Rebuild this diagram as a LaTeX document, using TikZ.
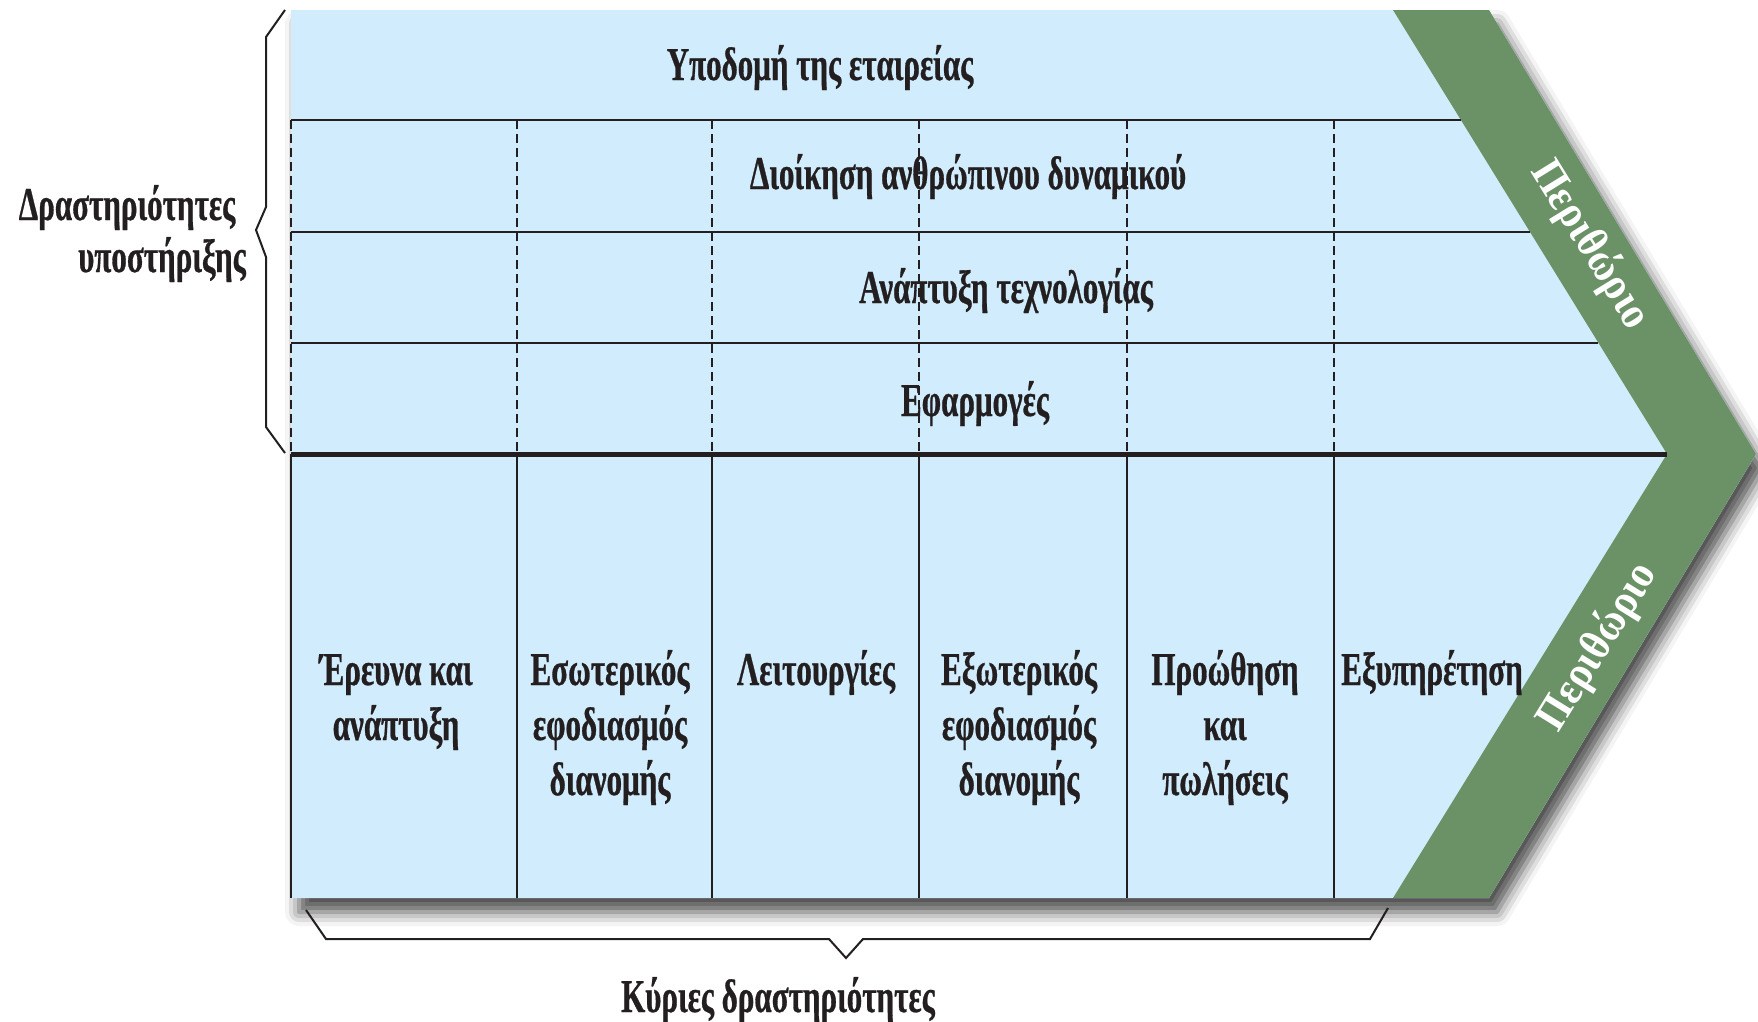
\documentclass[tikz,border=0pt]{standalone}
\usepackage{fontspec}
\setmainfont{Liberation Serif}
\newfontfamily\gf[FakeStretch=0.66,FakeBold=0.6]{Liberation Serif}
\newfontfamily\mf[FakeStretch=0.9]{Liberation Serif}
\usetikzlibrary{shadows.blur}
\definecolor{paleblue}{HTML}{D1ECFC}
\definecolor{margin}{HTML}{6B9266}
\definecolor{ink}{HTML}{231F20}
\begin{document}
\begin{tikzpicture}[x=1pt,y=-1pt,
  lbl/.style={font=\gf\bfseries\fontsize{47}{55}\selectfont, text=ink, inner sep=0pt, anchor=base},
  prim/.style={font=\gf\bfseries\fontsize{47}{55}\selectfont, text=ink, inner sep=0pt, anchor=base},
  sidelbl/.style={font=\gf\bfseries\fontsize{47}{52}\selectfont, text=ink, inner sep=0pt, anchor=base},
  marg/.style={font=\mf\bfseries\fontsize{45}{50}\selectfont, text=white, inner sep=0pt, anchor=center},
  sline/.style={draw=ink, line width=2pt},
  dline/.style={draw=ink, line width=2pt, dash pattern=on 9pt off 5pt},
  thick line/.style={draw=ink, line width=5pt},
  bracket/.style={draw=ink, line width=2pt, line join=miter}]
\useasboundingbox (0,0) rectangle (1758,1021);
% body with shadow
\fill[paleblue, blur shadow={shadow xshift=8pt, shadow yshift=-14pt, shadow blur radius=14pt, shadow opacity=70}]
  (291,10) -- (1489,10) -- (1756,454) -- (1489,898) -- (291,898) -- cycle;
% margin chevron
\fill[margin] (1393,10) -- (1489,10) -- (1756,454) -- (1489,898) -- (1393,898) -- (1667,454) -- cycle;
% support rows
\draw[sline] (291,120) -- (1461,120);
\draw[sline] (291,232) -- (1530,232);
\draw[sline] (291,343) -- (1598,343);
\foreach \x in {291,517,712,919,1127,1334} {
  \draw[dline] (\x,120) -- (\x,452);
  \draw[sline] (\x,454) -- (\x,898);
}
\draw[thick line] (291,454) -- (1667,454);
% braces
\draw[bracket] (285,10) -- (266,37) -- (266,207) -- (256,230) -- (266,257) -- (266,427) -- (285,453);
\draw[bracket] (306,910) -- (326,939) -- (829,939) -- (846,958) -- (863,939) -- (1370,939) -- (1388,908);
% support labels
\node[lbl] (infra) at (820,80) {Υποδομή της εταιρείας};
\node[lbl] (hrm) at (968,189) {Διοίκηση ανθρώπινου δυναμικού};
\node[lbl] (tech) at (1006,303) {Ανάπτυξη τεχνολογίας};
\node[lbl] (apps) at (975,416) {Εφαρμογές};
% primary labels
\node[prim] (c1a) at (396,685) {Έρευνα και};
\node[prim] (c1b) at (396,740) {ανάπτυξη};
\node[prim] (c2a) at (610,685) {Εσωτερικός};
\node[prim] (c2b) at (610,740) {εφοδιασμός};
\node[prim] (c2c) at (610,795) {διανομής};
\node[prim] (c3a) at (816,685) {Λειτουργίες};
\node[prim] (c4a) at (1019,685) {Εξωτερικός};
\node[prim] (c4b) at (1019,740) {εφοδιασμός};
\node[prim] (c4c) at (1019,795) {διανομής};
\node[prim] (c5a) at (1225,685) {Προώθηση};
\node[prim] (c5b) at (1225,740) {και};
\node[prim] (c5c) at (1225,795) {πωλήσεις};
\node[prim] (c6a) at (1432,685) {Εξυπηρέτηση};
% side labels
\node[sidelbl] (s1) at (127,220) {Δραστηριότητες};
\node[sidelbl] (s2) at (162,272) {υποστήριξης};
\node[prim] (primary) at (778,1012) {Κύριες δραστηριότητες};
% margin labels
\node[marg, rotate=-58.3] (m1) at (1590,245) {Περιθώριο};
\node[marg, rotate=58.3] (m2) at (1598,647) {Περιθώριο};
\end{tikzpicture}
\end{document}
